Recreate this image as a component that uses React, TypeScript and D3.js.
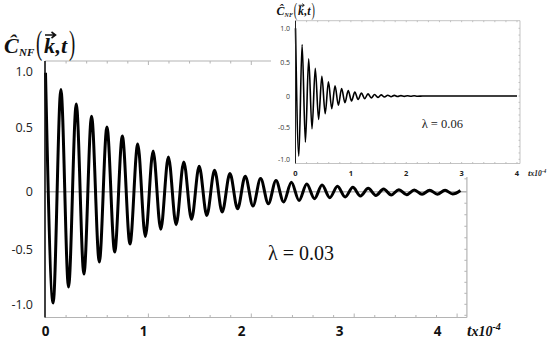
import React from "react";
import * as d3 from "d3";

// ---- main chart (λ = 0.03): extremes of the damped oscillation
const MAIN_T = [
  0, 0.078, 0.157, 0.235, 0.314, 0.392, 0.47, 0.549, 0.627, 0.706, 0.784, 0.862, 0.941, 1.019,
  1.098, 1.176, 1.254, 1.333, 1.411, 1.49, 1.568, 1.646, 1.725, 1.803, 1.882, 1.96, 2.038, 2.117,
  2.195, 2.274, 2.352, 2.43, 2.509, 2.587, 2.666, 2.744, 2.822, 2.901, 2.979, 3.058, 3.136, 3.214,
  3.293, 3.371, 3.45, 3.528, 3.606, 3.685, 3.763, 3.842, 3.92, 3.998, 4.077, 4.155, 4.234,
];
const MAIN_C = [
  0.99, -0.988, 0.84, -0.843, 0.71, -0.725, 0.6, -0.615, 0.502, -0.525, 0.432, -0.454, 0.37, -0.389,
  0.316, -0.327, 0.269, -0.286, 0.231, -0.24, 0.197, -0.206, 0.166, -0.176, 0.141, -0.148, 0.12, -0.124,
  0.102, -0.104, 0.086, -0.089, 0.073, -0.076, 0.06, -0.061, 0.052, -0.052, 0.042, -0.046, 0.034, -0.037,
  0.026, -0.032, 0.021, -0.029, 0.016, -0.026, 0.013, -0.023, 0.012, -0.022, 0.011, -0.02, 0.01,
];

// ---- inset chart (λ = 0.06)
const INSET_T = [
  0, 0.06, 0.119, 0.179, 0.238, 0.298, 0.357, 0.417, 0.476, 0.536, 0.595, 0.655, 0.714, 0.774,
  0.833, 0.893, 0.952, 1.012, 1.071, 1.131, 1.19, 1.25, 1.309, 1.369, 1.428, 1.488, 1.547, 1.607,
  1.666, 1.726, 1.785, 1.845, 1.904, 1.964, 2.023, 2.083, 2.142, 2.202, 2.3, 4.0,
];
const INSET_C = [
  1.0, -0.95, 0.76, -0.73, 0.55, -0.52, 0.41, -0.37, 0.29, -0.28, 0.21, -0.2, 0.15, -0.145,
  0.11, -0.105, 0.08, -0.077, 0.058, -0.056, 0.042, -0.041, 0.031, -0.03, 0.022, -0.022, 0.016, -0.016,
  0.012, -0.011, 0.009, -0.008, 0.006, -0.006, 0.004, -0.004, 0.003, -0.003, 0, 0,
];

const X_TICKS = [0, 1, 2, 3, 4];
const X_LABELS = ["0", "1", "2", "3", "4"];
const Y_TICKS = [-1, -0.5, 0, 0.5, 1];
const Y_LABELS = ["-1.0", "-0.5", "0", "0.5", "1.0"];
const MAIN_LAMBDA = "λ = 0.03";
const INSET_LAMBDA = "λ = 0.06";

const GREY = "#b4b4b4";
const SERIF = "'Liberation Serif', 'DejaVu Serif', serif";
const SANS = "'Open Sans', 'Liberation Sans', sans-serif";

function Title({ x, y, s }: { x: number; y: number; s: number }) {
  return (
    <g transform={`translate(${x},${y}) scale(${s})`} fontFamily={SERIF} fontWeight="bold" fontStyle="italic" fill="#111">
      <text x={0} y={0} fontSize={22}>Ĉ</text>
      <text x={15} y={3} fontSize={11}>NF</text>
      <text x={32} y={1} fontSize={34} fontStyle="normal" fontWeight="normal" transform="translate(32,0) scale(0.55,1) translate(-32,0)">(</text>
      <text x={40} y={0} fontSize={22}>k</text>
      <path d="M41,-18 L51,-18 M47.5,-21 L51.5,-18 L47.5,-15" stroke="#111" strokeWidth={1.6} fill="none" />
      <text x={51.5} y={0} fontSize={22}>,t</text>
      <text x={65} y={1} fontSize={34} fontStyle="normal" fontWeight="normal" transform="translate(65,0) scale(0.55,1) translate(-65,0)">)</text>
    </g>
  );
}

export default function App() {
  const x = d3.scaleLinear().domain([0, 4]).range([45.5, 437.5]);
  const y = d3.scaleLinear().domain([-1, -0.5, 0, 0.5, 1]).range([304.3, 249.3, 191.7, 127.3, 71.7]);
  const left = 45, right = x(4.3), top = 61, bottom = 317.5;

  const mainLine = d3
    .line<number>()
    .x((_, i) => x(MAIN_T[i]))
    .y((c) => y(c))
    .curve(d3.curveMonotoneX)(MAIN_C) as string;

  const xi = d3.scaleLinear().domain([0, 4]).range([295.5, 517]);
  const yi = d3.scaleLinear().domain([-1, 0, 1]).range([159.3, 96, 28.3]);
  const il = 295.5, ir = 520, it = 20.7, ib = 163.5;
  const insetLine = d3
    .line<number>()
    .x((_, i) => xi(INSET_T[i]))
    .y((c) => yi(c))
    .curve(d3.curveMonotoneX)(INSET_C) as string;

  const minorX = d3.range(0.21, 4.3, 0.21);
  const minorY = d3.range(-1.1, 1.1, 0.1);
  const minorXi = d3.range(0.2, 4.05, 0.2);
  const minorYi = d3.range(-1.0, 1.1, 0.1);

  return (
    <svg width={550} height={340} style={{ position: "absolute", left: 0, top: 0, background: "#fff" }}>
      <rect width={550} height={340} fill="#fff" />
      <line x1={left} x2={right} y1={top} y2={top} stroke={GREY} strokeWidth={1.2} />
      <line x1={left} x2={right} y1={bottom} y2={bottom} stroke={GREY} strokeWidth={1.2} />
      <line x1={right} x2={right} y1={top} y2={bottom} stroke={GREY} strokeWidth={1.2} />
      {minorX.map((t, i) => (
        <g key={i}>
          <line x1={x(t)} x2={x(t)} y1={top} y2={top + ((i + 1) % 5 === 0 ? 4 : 2.5)} stroke={GREY} strokeWidth={1} />
          <line x1={x(t)} x2={x(t)} y1={bottom} y2={bottom - ((i + 1) % 5 === 0 ? 4 : 2.5)} stroke={GREY} strokeWidth={1} />
        </g>
      ))}
      {minorY.map((v, i) => (
        <line key={i} x1={right} x2={right - 2.5} y1={y(v)} y2={y(v)} stroke={GREY} strokeWidth={1} />
      ))}
      <line x1={left} x2={right} y1={y(0)} y2={y(0)} stroke={GREY} strokeWidth={1.6} />
      <path d={mainLine} fill="none" stroke="#000" strokeWidth={3} strokeLinejoin="round" />
      <line x1={left} x2={left} y1={top} y2={bottom} stroke="#111" strokeWidth={1.6} />

      {Y_TICKS.map((v, i) => (
        <text key={i} x={33} y={y(v)} dy="0.36em" textAnchor="end" fontFamily={SANS} fontSize={12.5} fill="#222">
          {Y_LABELS[i]}
        </text>
      ))}
      {X_TICKS.map((v, i) => (
        <text key={i} x={x(v)} y={336} textAnchor="middle" fontFamily={SANS} fontWeight="bold" fontSize={13.5} fill="#111">
          {X_LABELS[i]}
        </text>
      ))}
      <text x={467} y={336} fontFamily={SERIF} fontWeight="bold" fontStyle="italic" fill="#111">
        <tspan fontSize={16}>t</tspan>
        <tspan fontSize={14}>x10</tspan>
        <tspan fontSize={10} dy={-6}>-4</tspan>
      </text>
      <text x={268} y={260} fontFamily={SERIF} fontSize={20} fill="#111">{MAIN_LAMBDA}</text>
      <Title x={4} y={53} s={1} />

      <rect x={271} y={0} width={279} height={177} fill="#fff" />
      <line x1={il} x2={ir} y1={it} y2={it} stroke={GREY} strokeWidth={0.8} />
      <line x1={il} x2={ir} y1={ib} y2={ib} stroke={GREY} strokeWidth={0.8} />
      <line x1={ir} x2={ir} y1={it} y2={ib} stroke={GREY} strokeWidth={0.8} />
      {minorXi.map((t, i) => (
        <g key={i}>
          <line x1={xi(t)} x2={xi(t)} y1={it} y2={it + 1.5} stroke={GREY} strokeWidth={0.8} />
          <line x1={xi(t)} x2={xi(t)} y1={ib} y2={ib - 1.5} stroke={GREY} strokeWidth={0.8} />
        </g>
      ))}
      {minorYi.map((v, i) => (
        <line key={i} x1={ir} x2={ir - 1.5} y1={yi(v)} y2={yi(v)} stroke={GREY} strokeWidth={0.8} />
      ))}
      <path d={insetLine} fill="none" stroke="#000" strokeWidth={1.6} strokeLinejoin="round" />
      <line x1={il} x2={il} y1={it} y2={ib} stroke="#222" strokeWidth={1} />
      {Y_TICKS.map((v, i) => (
        <text key={i} x={290} y={yi(v)} dy="0.36em" textAnchor="end" fontFamily={SANS} fontSize={7} fill="#333">
          {Y_LABELS[i]}
        </text>
      ))}
      {X_TICKS.map((v, i) => (
        <text key={i} x={xi(v)} y={175.5} textAnchor="middle" fontFamily={SANS} fontWeight="bold" fontSize={7.5} fill="#222">
          {X_LABELS[i]}
        </text>
      ))}
      <text x={528} y={175.5} fontFamily={SERIF} fontWeight="bold" fontStyle="italic" fill="#222">
        <tspan fontSize={9}>t</tspan>
        <tspan fontSize={7.5}>x10</tspan>
        <tspan fontSize={5.5} dy={-3}>-4</tspan>
      </text>
      <text x={421.7} y={127.5} fontFamily={SERIF} fontSize={12.5} fill="#222">{INSET_LAMBDA}</text>
      <Title x={276.5} y={15} s={0.54} />
    </svg>
  );
}
